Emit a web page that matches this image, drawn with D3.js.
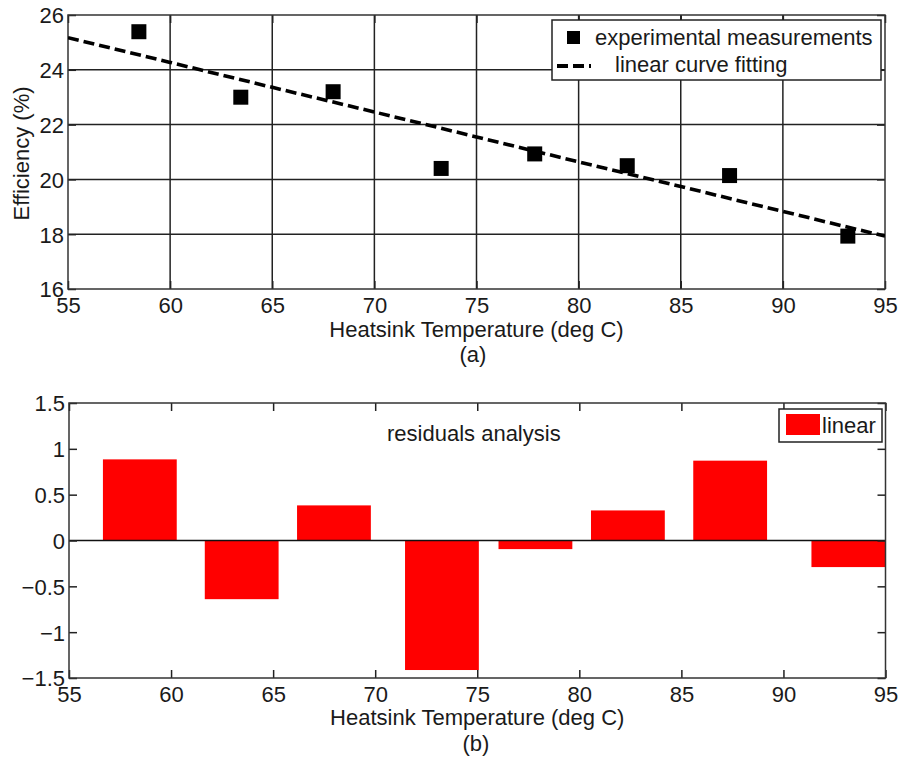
<!DOCTYPE html>
<html>
<head>
<meta charset="utf-8">
<script src="https://cdn.jsdelivr.net/npm/d3@7"></script>
<style>
  html, body { margin: 0; padding: 0; background: #fff; }
  svg { display: block; }
  text { font-family: "Liberation Sans", Arial, sans-serif; fill: #1a1a1a; }
</style>
</head>
<body>
<svg id="chart" width="901" height="760"></svg>
<script>
// ---- data ----
const temperatures = [58.47, 63.46, 67.98, 73.27, 77.85, 82.38, 87.39, 93.18];
const efficiency   = [25.39, 23.00, 23.20, 20.40, 20.93, 20.50, 20.14, 17.93];
const fitTemps     = [55, 60, 65, 70, 75, 80, 85, 90, 95];
const fitEfficiency= [25.17, 24.27, 23.36, 22.46, 21.55, 20.64, 19.74, 18.83, 17.93];
const residuals    = [0.885, -0.64, 0.383, -1.413, -0.094, 0.328, 0.871, -0.29];
const xTicks       = [55, 60, 65, 70, 75, 80, 85, 90, 95];
const effTicks     = [16, 18, 20, 22, 24, 26];
const resTicks     = [-1.5, -1, -0.5, 0, 0.5, 1, 1.5];
const xLabel       = "Heatsink Temperature (deg C)";
const effLabel     = "Efficiency (%)";
const legendTop    = ["experimental measurements", "linear curve fitting"];
const legendBottom = "linear";
const annotation   = "residuals analysis";
const captions     = ["(a)", "(b)"];

const svg = d3.select("#chart");
const FS = 22;
const ink = "#222";

function frame(g, x, y, xt, yt, fmtY, grid) {
  const [x0, x1] = x.range();
  const [y0, y1] = y.range(); // y0 bottom, y1 top
  if (grid) {
    g.append("g").selectAll("line.v").data(xt.filter(t => t > x.domain()[0] && t < x.domain()[1]))
      .join("line").attr("x1", d => x(d)).attr("x2", d => x(d)).attr("y1", y0).attr("y2", y1)
      .attr("stroke", ink).attr("stroke-width", 1.5);
    g.append("g").selectAll("line.h").data(yt.filter(t => t > y.domain()[0] && t < y.domain()[1]))
      .join("line").attr("y1", d => y(d)).attr("y2", d => y(d)).attr("x1", x0).attr("x2", x1)
      .attr("stroke", ink).attr("stroke-width", 1.5);
  }
  // axes via d3 (inward ticks)
  const tl = 8;
  const bottomAx = g.append("g").attr("transform", `translate(0,${y0})`)
    .call(d3.axisBottom(x).tickValues(xt).tickSizeInner(-tl).tickSizeOuter(0).tickPadding(tl + 10));
  const topAx = g.append("g").attr("transform", `translate(0,${y1})`)
    .call(d3.axisTop(x).tickValues(xt).tickSizeInner(-tl).tickSizeOuter(0).tickFormat(""));
  const leftAx = g.append("g").attr("transform", `translate(${x0},0)`)
    .call(d3.axisLeft(y).tickValues(yt).tickSizeInner(-tl).tickSizeOuter(0).tickPadding(tl + 4).tickFormat(fmtY));
  const rightAx = g.append("g").attr("transform", `translate(${x1},0)`)
    .call(d3.axisRight(y).tickValues(yt).tickSizeInner(-tl).tickSizeOuter(0).tickFormat(""));
  [bottomAx, topAx, leftAx, rightAx].forEach(a => {
    a.select(".domain").remove();
    a.selectAll(".tick line").attr("stroke", ink).attr("stroke-width", 1.5);
    a.selectAll("text").attr("font-size", FS).attr("font-family", "Liberation Sans, Arial, sans-serif").attr("fill", "#1a1a1a");
  });
  bottomAx.selectAll("text").attr("dy", null).attr("y", 24);
  leftAx.selectAll("text").attr("dy", "0.36em").attr("x", -4);
  g.append("rect").attr("x", x0).attr("y", y1).attr("width", x1 - x0).attr("height", y0 - y1)
    .attr("fill", "none").attr("stroke", "#333").attr("stroke-width", 1.5);
}

// ---------- Panel (a) ----------
const xa = d3.scaleLinear().domain([55, 95]).range([68, 885]);
const ya = d3.scaleLinear().domain([16, 26]).range([289, 15]);
const ga = svg.append("g");
frame(ga, xa, ya, xTicks, effTicks, d3.format("d"), true);

svg.append("defs").append("clipPath").attr("id", "clipA")
  .append("rect").attr("x", 68).attr("y", 15).attr("width", 885 - 68).attr("height", 289 - 15);

const fitLine = d3.line().x(d => xa(d[0])).y(d => ya(d[1]));
ga.append("path").datum(fitTemps.map((t, i) => [t, fitEfficiency[i]]))
  .attr("d", fitLine).attr("fill", "none").attr("stroke", "#000")
  .attr("stroke-width", 3.6).attr("stroke-dasharray", "11,5").attr("clip-path", "url(#clipA)");

const sq = 15;
ga.append("g").selectAll("rect").data(temperatures.map((t, i) => [t, efficiency[i]]))
  .join("rect").attr("x", d => xa(d[0]) - sq / 2).attr("y", d => ya(d[1]) - sq / 2)
  .attr("width", sq).attr("height", sq).attr("fill", "#000");

// legend (a)
const la = ga.append("g");
la.append("rect").attr("x", 552).attr("y", 20).attr("width", 329).attr("height", 60)
  .attr("fill", "#fff").attr("stroke", ink).attr("stroke-width", 1.5);
la.append("rect").attr("x", 567).attr("y", 31).attr("width", 13).attr("height", 13).attr("fill", "#000");
la.append("text").attr("x", 595).attr("y", 45).attr("font-size", FS).text(legendTop[0]);
la.append("line").attr("x1", 557).attr("x2", 591).attr("y1", 66).attr("y2", 66)
  .attr("stroke", "#000").attr("stroke-width", 4).attr("stroke-dasharray", "11,5");
la.append("text").attr("x", 615).attr("y", 72).attr("font-size", FS).text(legendTop[1]);

// labels (a)
svg.append("text").attr("x", (68 + 885) / 2).attr("y", 337).attr("text-anchor", "middle")
  .attr("font-size", FS).text(xLabel);
svg.append("text").attr("x", 473).attr("y", 362).attr("text-anchor", "middle")
  .attr("font-size", FS).text(captions[0]);
svg.append("text").attr("transform", "translate(28.5,153.5) rotate(-90)").attr("text-anchor", "middle")
  .attr("font-size", FS).text(effLabel);

// ---------- Panel (b) ----------
const xb = d3.scaleLinear().domain([55, 95]).range([69, 885.5]);
const yb = d3.scaleLinear().domain([-1.5, 1.5]).range([678, 403]);
const gb = svg.append("g");

svg.select("defs").append("clipPath").attr("id", "clipB")
  .append("rect").attr("x", 69).attr("y", 403).attr("width", 885.5 - 69).attr("height", 678 - 403);

const spacings = d3.pairs(temperatures).map(([a, b]) => b - a);
const barW = 0.8 * d3.min(spacings);
gb.append("g").attr("clip-path", "url(#clipB)").selectAll("rect")
  .data(temperatures.map((t, i) => [t, residuals[i]]))
  .join("rect")
  .attr("x", d => xb(d[0] - barW / 2))
  .attr("width", d => xb(d[0] + barW / 2) - xb(d[0] - barW / 2))
  .attr("y", d => yb(Math.max(0, d[1])))
  .attr("height", d => Math.abs(yb(d[1]) - yb(0)))
  .attr("fill", "#ff0000");

gb.append("line").attr("x1", 69).attr("x2", 885.5).attr("y1", yb(0)).attr("y2", yb(0))
  .attr("stroke", "#111").attr("stroke-width", 1.5);

frame(gb, xb, yb, xTicks, resTicks, d => (d === 0 ? "0" : d3.format("")(d)), false);

gb.append("text").attr("x", 387).attr("y", 441).attr("font-size", FS).text(annotation);

// legend (b)
const lb = gb.append("g");
lb.append("rect").attr("x", 779).attr("y", 409).attr("width", 103).attr("height", 33)
  .attr("fill", "#fff").attr("stroke", ink).attr("stroke-width", 1.5);
lb.append("rect").attr("x", 786).attr("y", 414).attr("width", 34).attr("height", 21).attr("fill", "#ff0000");
lb.append("text").attr("x", 822).attr("y", 433).attr("font-size", FS).text(legendBottom);

svg.append("text").attr("x", (69 + 885.5) / 2).attr("y", 725).attr("text-anchor", "middle")
  .attr("font-size", FS).text(xLabel);
svg.append("text").attr("x", 476).attr("y", 751).attr("text-anchor", "middle")
  .attr("font-size", FS).text(captions[1]);
</script>
</body>
</html>
